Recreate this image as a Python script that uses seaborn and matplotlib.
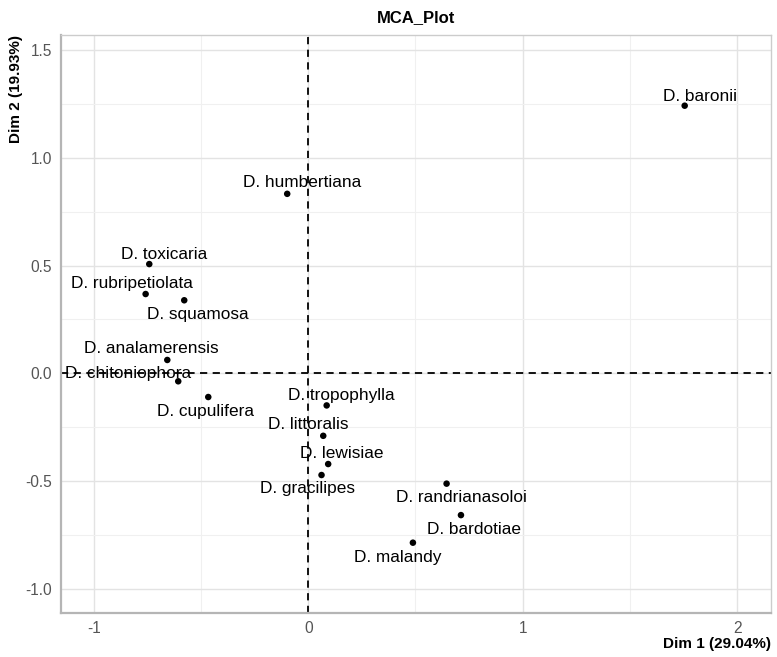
import numpy as np
import pandas as pd
import matplotlib
matplotlib.use("Agg")
import matplotlib.pyplot as plt
import seaborn as sns

species = ["D. baronii", "D. humbertiana", "D. toxicaria", "D. rubripetiolata",
           "D. squamosa", "D. analamerensis", "D. chitoniophora", "D. cupulifera",
           "D. tropophylla", "D. littoralis", "D. lewisiae", "D. gracilipes",
           "D. randrianasoloi", "D. bardotiae", "D. malandy"]
dim1 = [1.755, -0.098, -0.741, -0.758, -0.578, -0.657, -0.606, -0.466,
        0.086, 0.070, 0.093, 0.062, 0.645, 0.712, 0.488]
dim2 = [1.242, 0.833, 0.507, 0.368, 0.339, 0.062, -0.037, -0.110,
        -0.149, -0.290, -0.421, -0.472, -0.512, -0.658, -0.786]

# label offsets in pixels (repel-like placement)
label_dx = [15, 15, 15, -14, 14, -16, -50, -3, 15, -15, 14, -14, 15, 13, -15]
label_dy = [9, 11, 10, 11, -14, 11, 8, -14, 10, 11, 11, -13, -14, -14, -15]

df = pd.DataFrame({"species": species, "dim1": dim1, "dim2": dim2})

sns.set_theme(style="whitegrid")
plt.rcParams["font.family"] = ["Liberation Sans", "DejaVu Sans"]

fig = plt.figure(figsize=(7.77, 6.57), dpi=100)
ax = fig.add_axes([0.0781, 0.0674, 0.9138, 0.8793])

ax.axhline(0, color="black", lw=1.3, ls=(0, (4, 3)), zorder=1)
ax.axvline(0, color="black", lw=1.3, ls=(0, (4, 3)), zorder=1)

sns.scatterplot(data=df, x="dim1", y="dim2", color="black", s=22,
                edgecolor="none", ax=ax, zorder=3)

for name, x, y, dx, dy in zip(species, dim1, dim2, label_dx, label_dy):
    ax.annotate(name, (x, y), xytext=(dx, dy), textcoords="offset pixels",
                ha="center", va="center", fontsize=12.4, color="black", zorder=4)

ax.set_xlim(-1.154, 2.156)
ax.set_ylim(-1.111, 1.570)
ax.set_xticks([-1, 0, 1, 2])
ax.set_xticklabels(["-1", "0", "1", "2"])
ax.set_yticks([-1.0, -0.5, 0.0, 0.5, 1.0, 1.5])
ax.set_yticklabels(["-1.0", "-0.5", "0.0", "0.5", "1.0", "1.5"])
ax.set_xticks([-0.5, 0.5, 1.5], minor=True)
ax.set_yticks([-0.75, -0.25, 0.25, 0.75, 1.25], minor=True)

ax.grid(which="major", color="#e3e3e3", lw=1.0)
ax.grid(which="minor", color="#f0f0f0", lw=0.8)
ax.set_axisbelow(True)

ax.tick_params(axis="both", which="major", labelsize=11.2, labelcolor="#555555",
               length=3, width=0.8, color="#bbbbbb", pad=3)
ax.tick_params(axis="both", which="minor", length=0)

for side in ["left", "bottom"]:
    ax.spines[side].set_color("#b5b5b5")
    ax.spines[side].set_linewidth(1.6)
for side in ["top", "right"]:
    ax.spines[side].set_color("#cccccc")
    ax.spines[side].set_linewidth(1.0)

ax.set_xlabel("Dim 1 (29.04%)", fontsize=11, fontweight="bold", color="black",
              loc="right", labelpad=1)
ax.set_ylabel("Dim 2 (19.93%)", fontsize=11, fontweight="bold", color="black",
              loc="top", labelpad=2)
ax.set_title("MCA_Plot", fontsize=12, fontweight="bold", color="black", pad=9)

fig.savefig("out.png", dpi=100)
